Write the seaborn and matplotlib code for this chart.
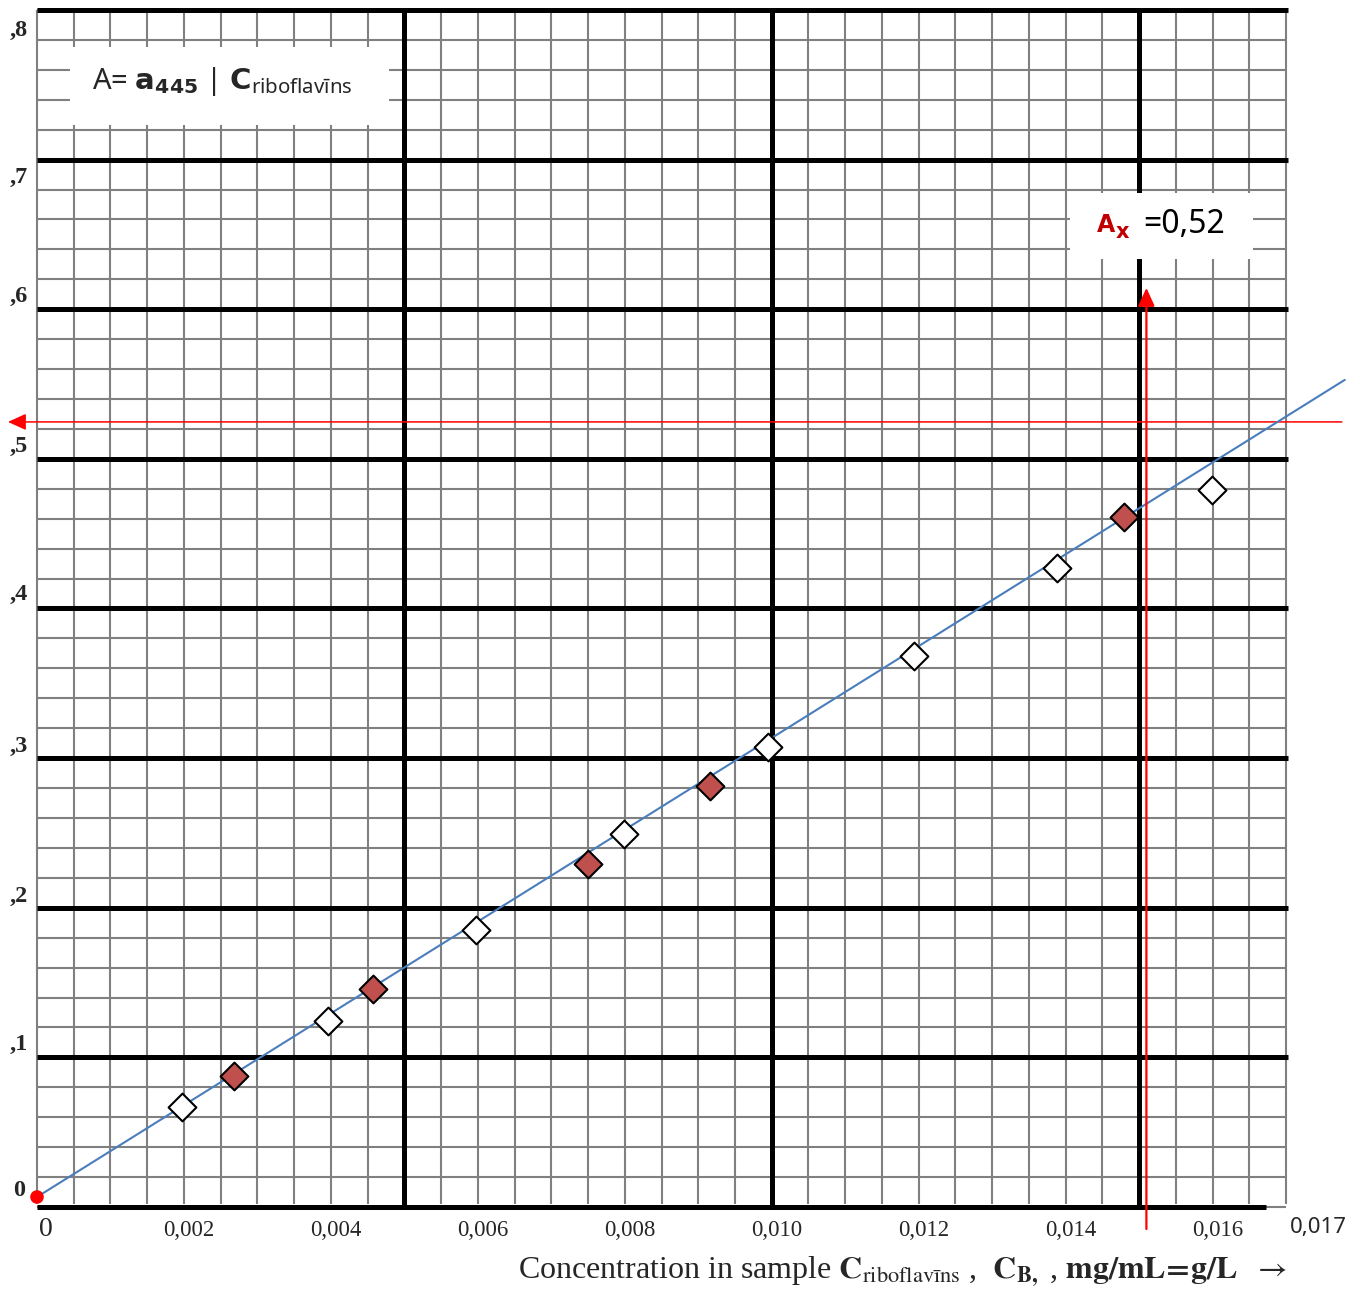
import numpy as np
import pandas as pd
import matplotlib
matplotlib.use("Agg")
import matplotlib.pyplot as plt
import seaborn as sns
from matplotlib.patches import Rectangle
from matplotlib.transforms import offset_copy, blended_transform_factory

# ---------------- data ----------------
white_c = [0.00197, 0.00396, 0.00598, 0.00799, 0.00995, 0.01194, 0.01388, 0.01599]
white_a = [0.0668, 0.1243, 0.1852, 0.2493, 0.3075, 0.3683, 0.4271, 0.4793]
red_c = [0.00268, 0.00457, 0.00750, 0.00916, 0.01479]
red_a = [0.0876, 0.1457, 0.2293, 0.2814, 0.4612]
fit_c = [0.0, 0.0178]
fit_a = [0.0067, 0.5528]
origin_c = [0.0]
origin_a = [0.0067]
ax_line_a = 0.5247      # horizontal red line (A_x)
cx_line_c = 0.0151      # vertical red line
ax_text_value = "0,52"

x_tick_vals = [0.0, 0.002, 0.004, 0.006, 0.008, 0.010, 0.012, 0.014, 0.016]
x_tick_labels = ["0", "0,002", "0,004", "0,006", "0,008", "0,010", "0,012", "0,014", "0,016"]
y_tick_vals = [0.0, 0.1, 0.2, 0.3, 0.4, 0.5, 0.6, 0.7, 0.8]
y_tick_labels = ["0", ",1", ",2", ",3", ",4", ",5", ",6", ",7", ",8"]

# ---------------- style ----------------
sns.set_style("white")
plt.rcParams["mathtext.rm"] = "Noto Sans"
plt.rcParams["mathtext.bf"] = "DejaVu Sans:bold"
plt.rcParams["mathtext.it"] = "Noto Sans"
plt.rcParams["mathtext.sf"] = "Noto Sans"
plt.rcParams["font.family"] = ["Liberation Serif", "DejaVu Sans"]

W, H = 1360, 1290
fig = plt.figure(figsize=(W / 100, H / 100), dpi=100)
fig.patch.set_facecolor("white")
L, R, T, B = 37, 1286, 10, 1207
ax = fig.add_axes([L / W, 1 - B / H, (R - L) / W, (B - T) / H])
for s in ax.spines.values():
    s.set_visible(False)
ax.set_facecolor("white")


def fpos(x, y):
    return x / W, 1 - y / H


# ---------------- graph paper ----------------
fine_x = np.arange(0, 0.017 + 1e-9, 0.0005)
fine_y = np.arange(0, 0.8 + 1e-9, 0.02)
gray = "#808080"
ax.vlines(fine_x, 0.002, 0.8, colors=gray, lw=1.5, zorder=1, clip_on=False)
ax.hlines(fine_y, 0, 0.017, colors=gray, lw=1.5, zorder=1, clip_on=False)
ax.vlines([0.005, 0.010, 0.015], 0, 0.8, colors="black", lw=3.6, zorder=2, clip_on=False)
ax.hlines(np.arange(0.1, 0.8 + 1e-9, 0.1), 0, 0.01703, colors="black", lw=3.6, zorder=2, clip_on=False)
ax.hlines([0.0], 0, 0.01673, colors="black", lw=3.6, zorder=2, clip_on=False)

# white label boxes
ax.add_patch(Rectangle((0.00045, 0.7233), 0.00434, 0.0521, facecolor="white",
                       edgecolor="none", zorder=3))
ax.add_patch(Rectangle((0.01406, 0.6337), 0.00249, 0.0441, facecolor="white",
                       edgecolor="none", zorder=3))

# ---------------- red guide arrows ----------------
ax.annotate("", xy=(cx_line_c, 0.6143), xytext=(cx_line_c, -0.0147),
            xycoords="data", annotation_clip=False, zorder=6,
            arrowprops=dict(arrowstyle="-|>,head_length=0.55,head_width=0.25",
                            color="red", lw=1.6, shrinkA=0, shrinkB=0,
                            mutation_scale=20))
ax.annotate("", xy=(-0.000395, ax_line_a), xytext=(0.01776, ax_line_a),
            xycoords="data", annotation_clip=False, zorder=4,
            arrowprops=dict(arrowstyle="-|>,head_length=0.55,head_width=0.25",
                            color="red", lw=1.1, shrinkA=0, shrinkB=0,
                            mutation_scale=20))

# ---------------- fitted line and points ----------------
sns.lineplot(x=fit_c, y=fit_a, ax=ax, color="#4A7EBB", lw=1.5, zorder=5,
             clip_on=False, legend=False)
sns.scatterplot(x=white_c, y=white_a, ax=ax, marker="D", s=200, color="white",
                edgecolor="black", linewidth=1.5, zorder=7, clip_on=False, legend=False)
sns.scatterplot(x=red_c, y=red_a, ax=ax, marker="D", s=200, color="#C0504D",
                edgecolor="black", linewidth=1.5, zorder=7, clip_on=False, legend=False)
sns.scatterplot(x=origin_c, y=origin_a, ax=ax, marker="o", s=95, color="red",
                edgecolor="none", zorder=8, clip_on=False, legend=False)
ax.set_xlim(0, 0.017)
ax.set_ylim(0, 0.8)
ax.set_xticks([])
ax.set_yticks([])
ax.set_xlabel("")
ax.set_ylabel("")

# ---------------- tick labels ----------------
tx = blended_transform_factory(ax.transData, ax.transAxes)
for v, lab in zip(x_tick_vals, x_tick_labels):
    big = lab == "0"
    tr = offset_copy(tx, fig=fig, x=9 if big else 5, y=-23, units="dots")
    ax.text(v, 0, lab, transform=tr, ha="center", va="center",
            fontsize=20 if big else 16.5, family="Liberation Serif")
fig.text(*fpos(1318, 1228), "0,017", ha="center", va="center", fontsize=16,
         family="Noto Sans")

ty = blended_transform_factory(ax.transAxes, ax.transData)
y_offsets = [17, 13, 11, 12, 14, 12, 13, -18, -20]
for v, lab, dy in zip(y_tick_vals, y_tick_labels, y_offsets):
    tr = offset_copy(ty, fig=fig, x=0, y=dy, units="dots")
    ax.text((19 - L) / (R - L), v, lab, transform=tr, ha="center", va="center",
            fontsize=17.5, fontweight="bold", family="Liberation Serif")

# ---------------- annotations ----------------
fig.text(*fpos(92, 89),
         r"A= $\mathbf{a}_{\mathbf{445}}$ | $\mathbf{C}_{\mathrm{riboflavīns}}$",
         fontsize=21, family="Noto Sans", math_fontfamily="custom",
         ha="left", va="baseline", zorder=10)

fig.text(*fpos(1097, 232), "A", fontsize=17, fontweight="bold", color="#C00000",
         family="DejaVu Sans", ha="left", va="baseline", zorder=10)
fig.text(*fpos(1116, 238), "x", fontsize=15, fontweight="bold", color="#C00000",
         family="DejaVu Sans", ha="left", va="baseline", zorder=10)
fig.text(*fpos(1143, 233), "=" + ax_text_value, fontsize=23, color="black",
         family="Noto Sans", ha="left", va="baseline", zorder=10)

fig.text(*fpos(518, 1279),
         r"Concentration in sample $\mathbf{C}_{\mathrm{riboflavīns}}$ ,  "
         r"$\mathbf{C}_{\mathbf{B,}}$ , $\mathbf{mg/mL\!=\!g/L}$  $\rightarrow$",
         fontsize=23, family="Liberation Serif", math_fontfamily="stix",
         ha="left", va="baseline")

fig.savefig("out.png", dpi=100, facecolor="white")
